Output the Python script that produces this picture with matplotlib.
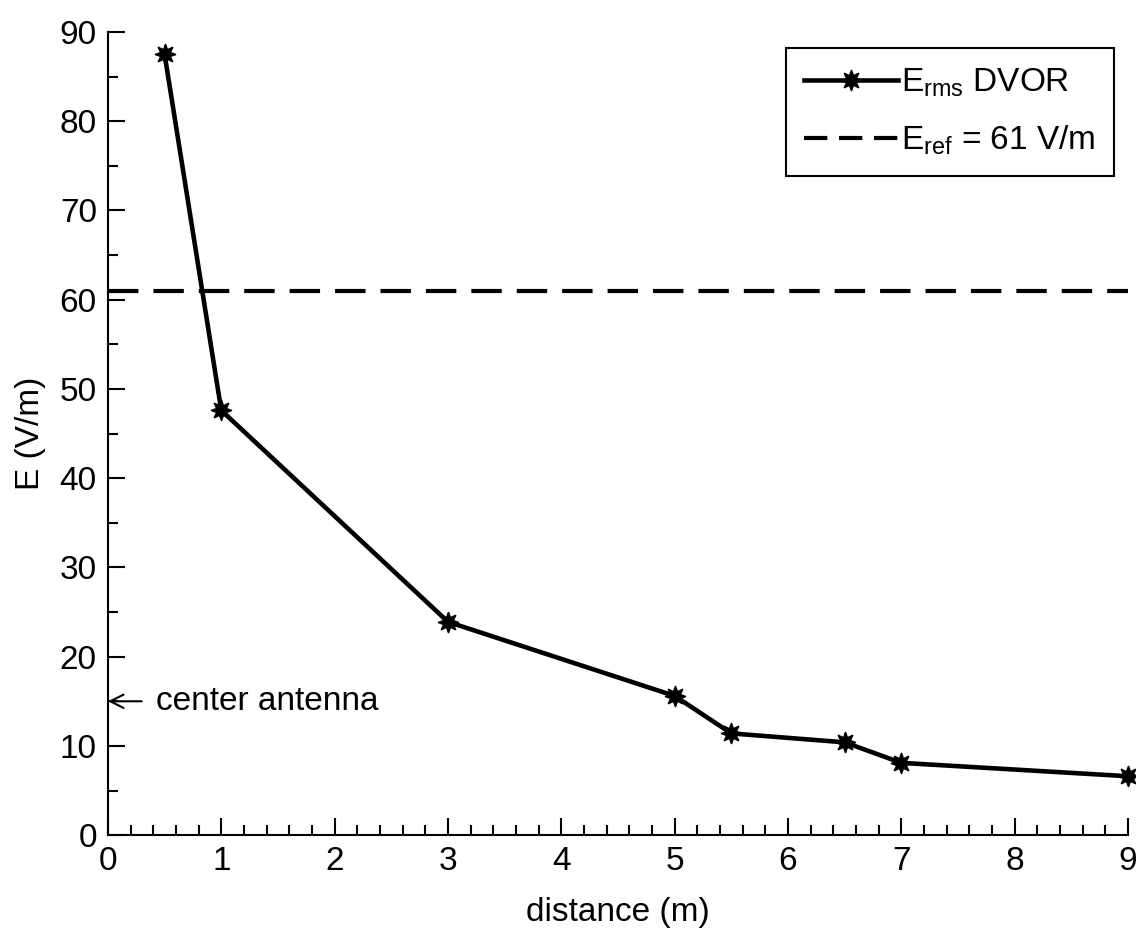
import matplotlib.pyplot as plt
from matplotlib.ticker import MultipleLocator

plt.rcParams['font.family'] = ['Liberation Sans', 'DejaVu Sans']
plt.rcParams['mathtext.fontset'] = 'custom'
plt.rcParams['mathtext.rm'] = 'Liberation Sans'
plt.rcParams['mathtext.it'] = 'Liberation Sans'

# E-field measurements around the DVOR
distance = [0.5, 1, 3, 5, 5.5, 6.5, 7, 9]
e_rms = [87.5, 47.6, 23.9, 15.6, 11.4, 10.4, 8.1, 6.6]
e_ref = 61
antenna_y = 15

fig = plt.figure(figsize=(11.36, 9.3), dpi=100)
ax = fig.add_axes([0.095, 0.102, 0.898, 0.8636])

ax.plot(distance, e_rms, color='black', lw=3.3, marker=(8, 1, 0), markersize=15,
        label=r'E$_{\mathrm{rms}}$ DVOR', clip_on=False, zorder=3)
ax.axhline(e_ref, color='black', lw=3, linestyle=(0, (7.3, 3.6)),
           label=r'E$_{\mathrm{ref}}$ = 61 V/m')

ax.annotate('center antenna', xy=(0, antenna_y), xytext=(0.42, antenna_y),
            fontsize=24, va='center', ha='left',
            arrowprops=dict(arrowstyle='->', color='black', lw=1.5,
                            shrinkA=8, shrinkB=0))

ax.set_xlim(0, 9)
ax.set_ylim(0, 90)
ax.xaxis.set_major_locator(MultipleLocator(1))
ax.xaxis.set_minor_locator(MultipleLocator(0.2))
ax.yaxis.set_major_locator(MultipleLocator(10))
ax.yaxis.set_minor_locator(MultipleLocator(5))
ax.tick_params(which='both', direction='in', labelsize=24, width=1.5, pad=8)
ax.tick_params(which='major', length=12)
ax.tick_params(which='minor', length=7)
ax.spines['top'].set_visible(False)
ax.spines['right'].set_visible(False)
ax.spines['left'].set_linewidth(1.5)
ax.spines['bottom'].set_linewidth(1.5)

ax.set_xlabel('distance (m)', fontsize=24, labelpad=14)
ax.set_ylabel('E (V/m)', fontsize=24, labelpad=10)

leg = ax.legend(loc='upper right', bbox_to_anchor=(0.986, 0.98), fontsize=24,
                fancybox=False, edgecolor='black', framealpha=1,
                handlelength=2.8, handletextpad=0.1, borderpad=0.55,
                labelspacing=0.75, borderaxespad=0)
leg.get_frame().set_linewidth(1.5)
# three whole dashes in the legend handle
leg.get_lines()[1].set_linestyle((0, (5.6, 2.8)))

fig.savefig('out.png', dpi=100)
